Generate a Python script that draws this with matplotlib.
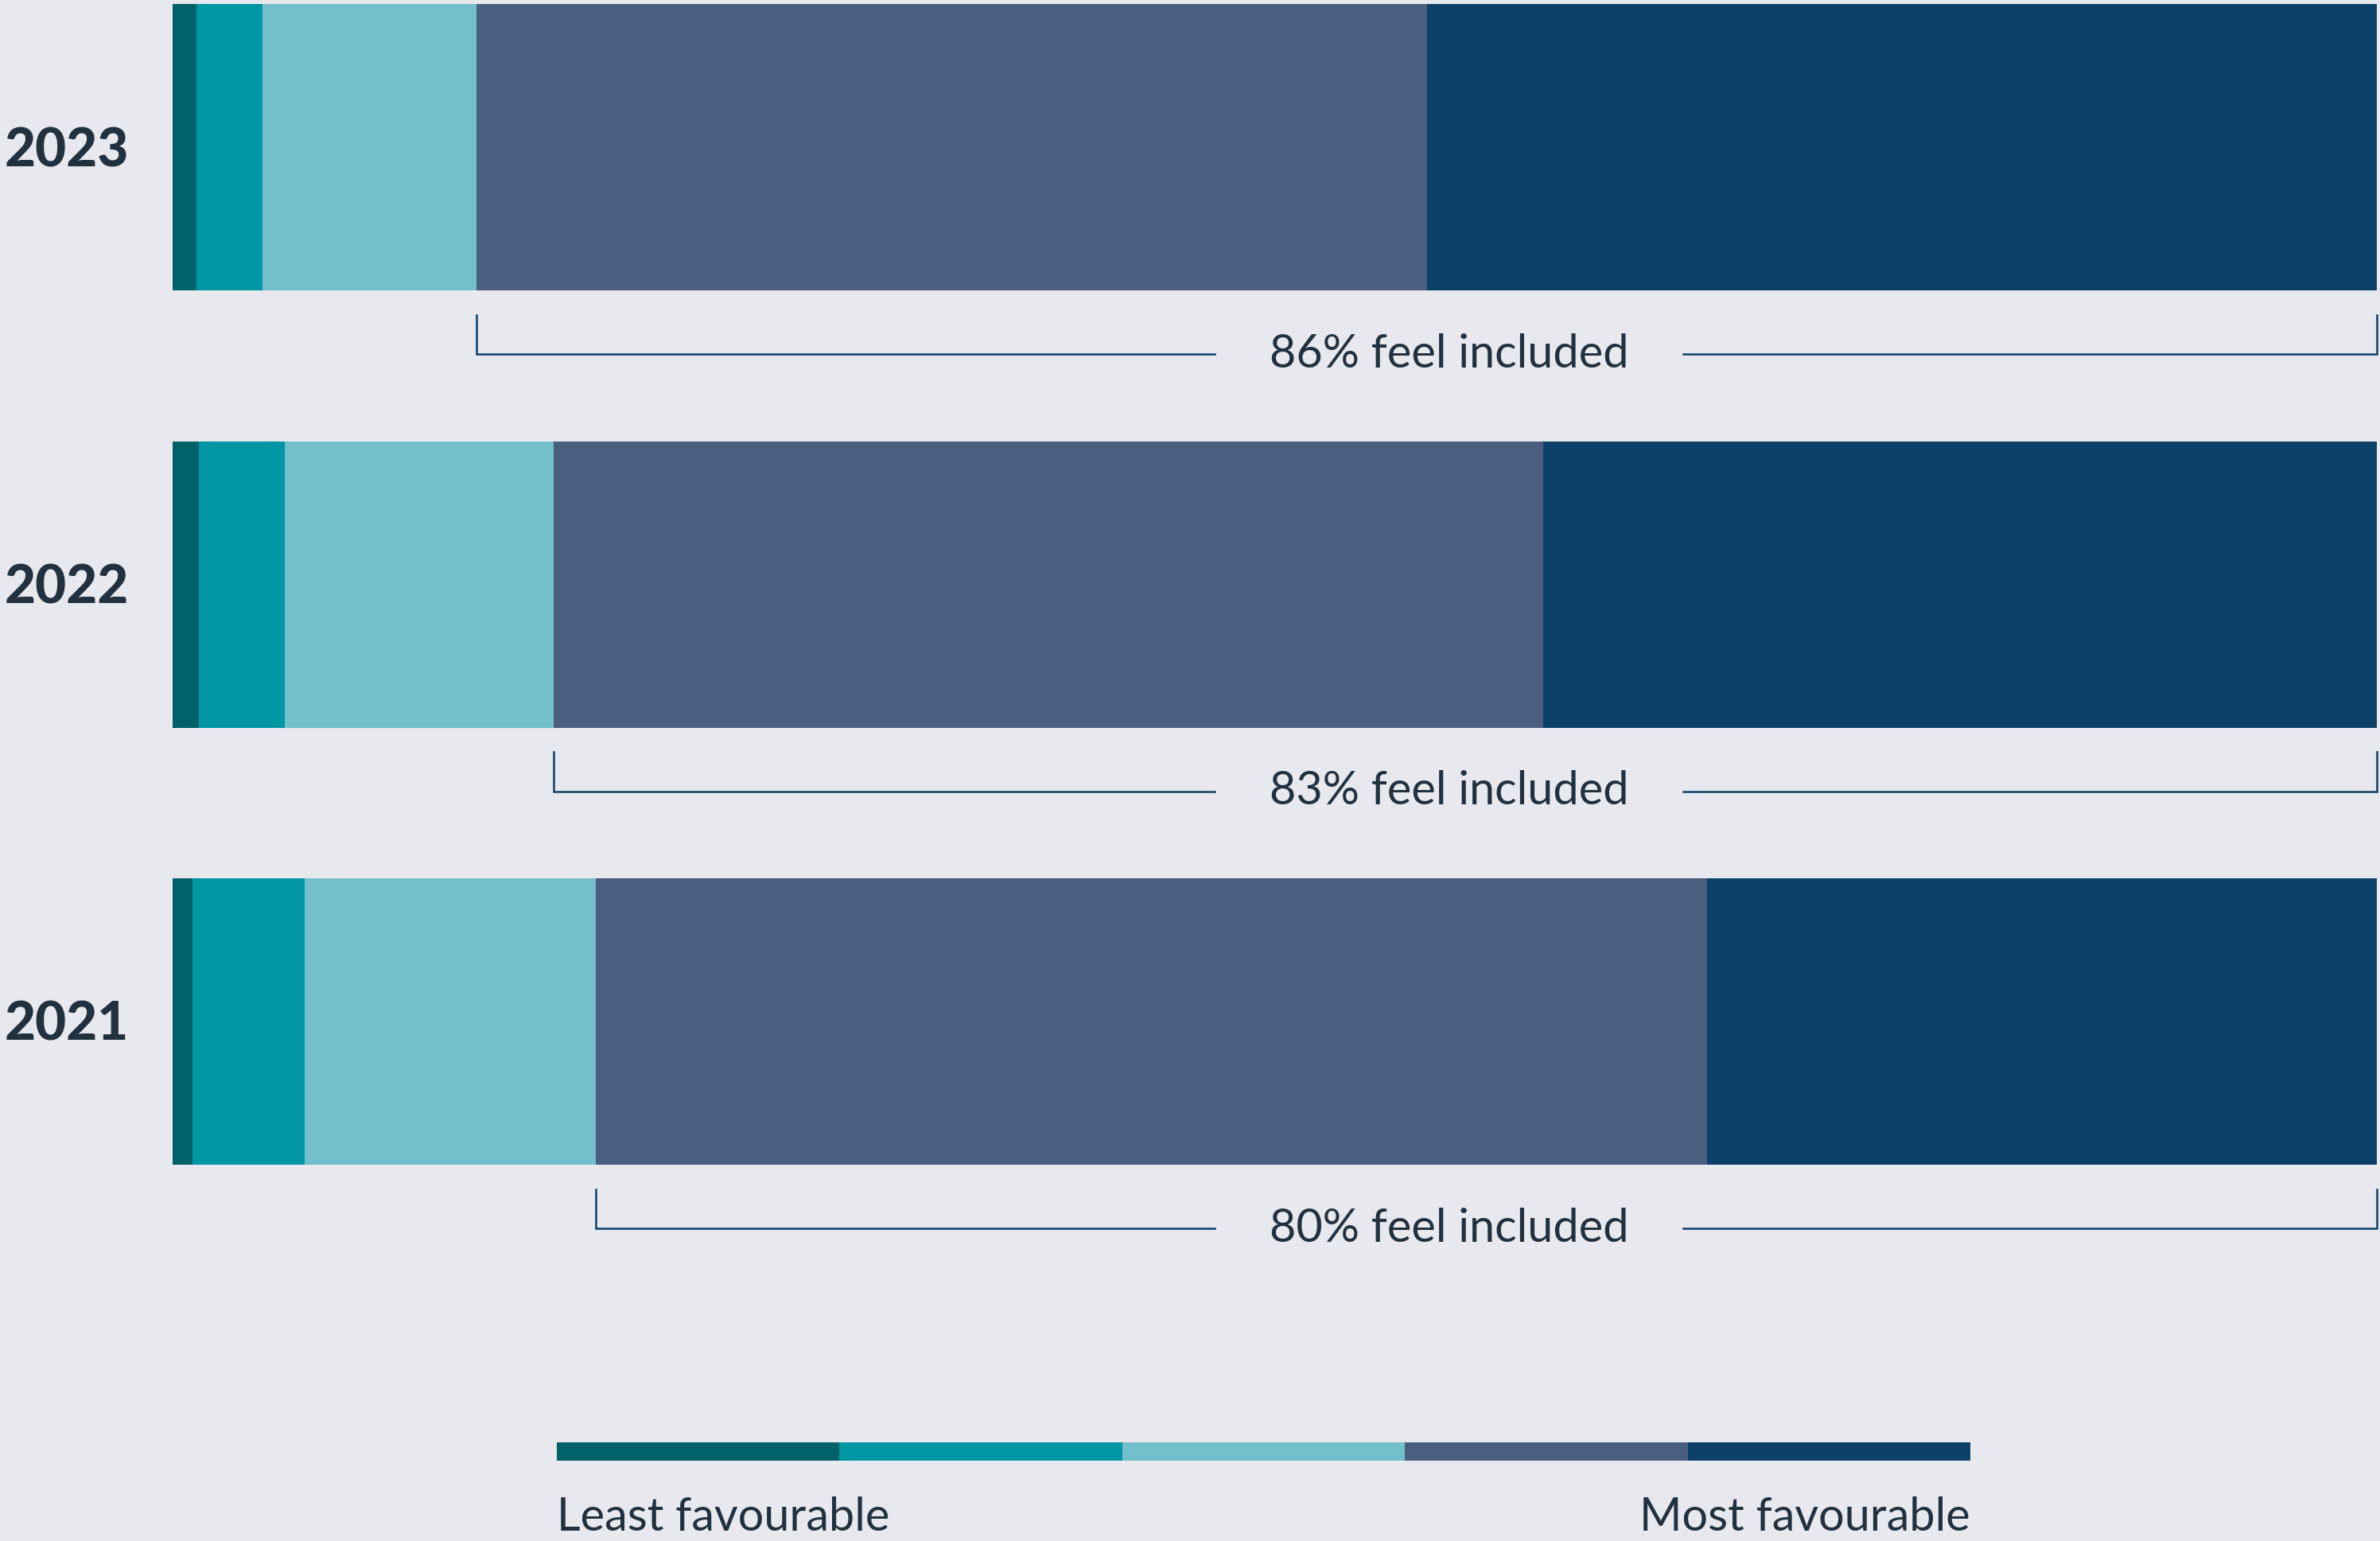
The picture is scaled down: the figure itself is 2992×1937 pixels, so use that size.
import matplotlib
matplotlib.use('Agg')
import matplotlib.pyplot as plt
import numpy as np

# data (percent of respondents per answer, least -> most favourable)
years = ['2023', '2022', '2021']
least = [1.1, 1.2, 0.9]
low = [3.0, 3.9, 5.1]
mid = [9.7, 12.2, 13.2]
high = [43.1, 44.9, 50.4]
most = [43.1, 37.8, 30.4]
included_labels = ['86% feel included', '83% feel included', '80% feel included']
legend_left = 'Least favourable'
legend_right = 'Most favourable'

colors = ['#006168', '#0097a4', '#73bfcb', '#4a5e80', '#0c4068']
bg = '#e7e9ee'
text_col = '#22313f'
line_col = '#0c4068'

plt.rcParams['font.family'] = ['Lato', 'DejaVu Sans']

W, H = 2992, 1937
fig = plt.figure(figsize=(W / 100, H / 100), dpi=100, facecolor=bg)

# main axes spans whole height, x range = bar area
ax = fig.add_axes([216.8 / W, 0, (2988 - 216.8) / W, 1])
ax.set_facecolor(bg)
ax.set_xlim(0, 100)
ax.set_ylim(3.188, -0.3367)
ax.axis('off')

segments = [least, low, mid, high, most]
y = np.arange(len(years))
bar_h = 0.655
left = np.zeros(len(years))
for vals, c in zip(segments, colors):
    ax.barh(y, vals, left=left, height=bar_h, color=c, edgecolor='none')
    left += np.array(vals)

# brackets for "feel included"
fav_start = np.array(least) + np.array(low) + np.array(mid)
fig.canvas.draw()
renderer = fig.canvas.get_renderer()
gap = 69  # px between text and line
for i in range(len(years)):
    top = y[i] + bar_h / 2 + 0.056
    bot = y[i] + bar_h / 2 + 0.146
    t = ax.text(57.9, bot, included_labels[i], ha='center', va='center',
                fontsize=41.5, color=text_col)
    ext = t.get_window_extent(renderer)
    inv = ax.transData.inverted()
    x0 = inv.transform((ext.x0 - gap, 0))[0]
    x1 = inv.transform((ext.x1 + gap, 0))[0]
    ax.plot([fav_start[i], fav_start[i], x0], [top, bot, bot],
            color=line_col, lw=1.8, solid_joinstyle='miter', clip_on=False)
    ax.plot([x1, 100, 100], [bot, bot, top],
            color=line_col, lw=1.8, solid_joinstyle='miter', clip_on=False)

# year labels
for i, yr in enumerate(years):
    fig.text(162 / W, 1 - (190 + i * 549.5) / H, yr, ha='right', va='center',
             fontsize=48.5, fontweight='black', color=text_col)

# colour scale legend
lax = fig.add_axes([700 / W, 1 - 1835.5 / H, 1777 / W, 23 / H])
lax.set_xlim(0, len(colors))
lax.set_ylim(0, 1)
lax.axis('off')
lax.barh([0.5] * len(colors), [1] * len(colors), left=np.arange(len(colors)),
         height=1, color=colors, edgecolor='none')
fig.text(700 / W, 1 - 1907 / H, legend_left, ha='left', va='center',
         fontsize=41.5, color=text_col)
fig.text(2477 / W, 1 - 1907 / H, legend_right, ha='right', va='center',
         fontsize=41.5, color=text_col)

fig.savefig('out.png', dpi=100, facecolor=bg)
